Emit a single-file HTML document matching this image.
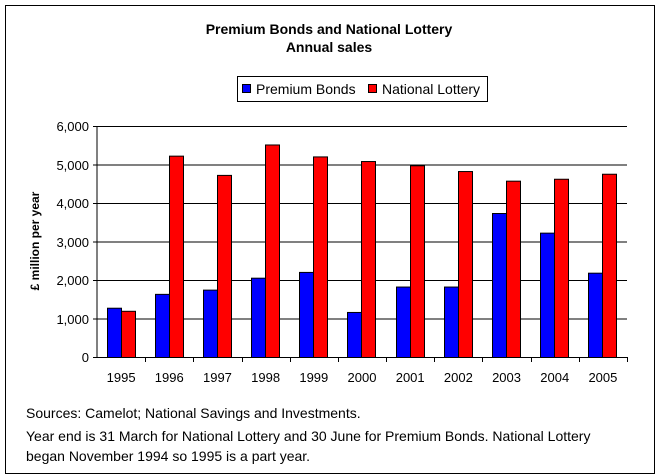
<!DOCTYPE html>
<html><head><style>body{margin:0;background:#fff}svg{display:block;font-family:"Liberation Sans",Arial,sans-serif}</style></head><body>
<svg width="659" height="476" xmlns="http://www.w3.org/2000/svg">
<rect x="5.5" y="5.5" width="649" height="468" fill="#fff" stroke="#000"/>
<text x="329" y="34" text-anchor="middle" font-size="14" font-weight="bold">Premium Bonds and National Lottery</text>
<text x="329" y="52" text-anchor="middle" font-size="14" font-weight="bold">Annual sales</text>
<rect x="237.5" y="76.5" width="250" height="25" fill="#fff" stroke="#000"/>
<rect x="242.5" y="84.5" width="8" height="8" fill="#00f" stroke="#000"/>
<text x="256" y="94" font-size="14">Premium Bonds</text>
<rect x="368.5" y="84.5" width="8" height="8" fill="#f00" stroke="#000"/>
<text x="382" y="94" font-size="14">National Lottery</text>
<g stroke="#000" stroke-width="1">
<line x1="97" y1="126.5" x2="627" y2="126.5"/>
<line x1="97" y1="165" x2="627" y2="165"/>
<line x1="97" y1="203.5" x2="627" y2="203.5"/>
<line x1="97" y1="242" x2="627" y2="242"/>
<line x1="97" y1="280.5" x2="627" y2="280.5"/>
<line x1="97" y1="319" x2="627" y2="319"/>
</g>
<g id="bars" stroke="#000" stroke-width="1"></g>
<g stroke="#000">
<line x1="97" y1="126" x2="97" y2="357.5"/>
<line x1="93" y1="357.5" x2="627" y2="357.5"/>
<line x1="93" y1="126.5" x2="97" y2="126.5"/>
<line x1="93" y1="165" x2="97" y2="165"/>
<line x1="93" y1="203.5" x2="97" y2="203.5"/>
<line x1="93" y1="242" x2="97" y2="242"/>
<line x1="93" y1="280.5" x2="97" y2="280.5"/>
<line x1="93" y1="319" x2="97" y2="319"/>
</g>
<g font-size="13" text-anchor="end">
<text x="89" y="131">6,000</text><text x="89" y="170">5,000</text><text x="89" y="208">4,000</text>
<text x="89" y="247">3,000</text><text x="89" y="285">2,000</text><text x="89" y="324">1,000</text><text x="89" y="362">0</text>
</g>
<text transform="translate(39,241) rotate(-90)" text-anchor="middle" font-size="12" font-weight="bold">£ million per year</text>
<g id="xl" font-size="13" text-anchor="middle"></g>
<g font-size="14">
<text x="26" y="418">Sources: Camelot; National Savings and Investments.</text>
<text x="26" y="441">Year end is 31 March for National Lottery and 30 June for Premium Bonds. National Lottery</text>
<text x="26" y="461">began November 1994 so 1995 is a part year.</text>
</g>
<script>
var pb=[1280,1640,1750,2060,2210,1170,1830,1830,3740,3230,2190];
var nl=[1200,5230,4730,5520,5210,5090,4980,4830,4580,4630,4760];
var g=document.getElementById('bars'),xl=document.getElementById('xl'),ns='http://www.w3.org/2000/svg';
var w=530/11;
function r(x,v,c){var h=v*0.0385;var e=document.createElementNS(ns,'rect');e.setAttribute('x',x+0.5);e.setAttribute('y',357.5-h);e.setAttribute('width',14);e.setAttribute('height',h);e.setAttribute('fill',c);g.appendChild(e);}
for(var i=0;i<11;i++){var x0=Math.round(97+i*w+9.5);r(x0,pb[i],'#00f');r(x0+14,nl[i],'#f00');
var t=document.createElementNS(ns,'line');var tx=Math.round(97+(i+1)*w)+0.5;t.setAttribute('x1',tx);t.setAttribute('x2',tx);t.setAttribute('y1',357);t.setAttribute('y2',362);t.setAttribute('stroke','#000');g.parentNode.appendChild(t);
var s=document.createElementNS(ns,'text');s.setAttribute('x',97+(i+0.5)*w);s.setAttribute('y',382);s.textContent=1995+i;xl.appendChild(s);}
</script>
</svg>
</body></html>
